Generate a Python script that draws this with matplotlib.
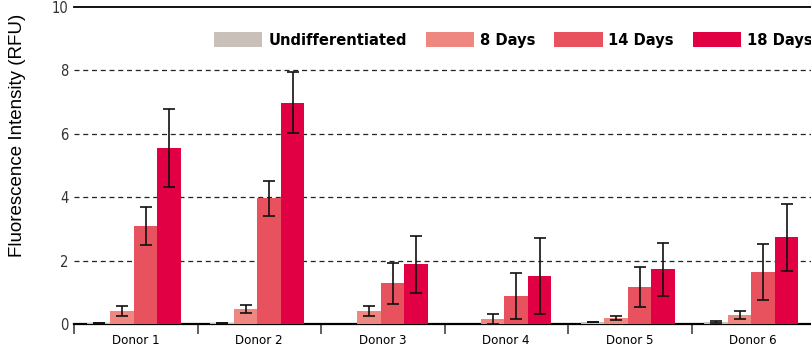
import numpy as np
import matplotlib
matplotlib.use('Agg')
import matplotlib.pyplot as plt

donors = ['Donor 1', 'Donor 2', 'Donor 3', 'Donor 4', 'Donor 5', 'Donor 6']
series = ['Undifferentiated', '8 Days', '14 Days', '18 Days']
colors = ['#c9c1b9', '#ef8781', '#e8525e', '#e20045']

undiff = [0.03, 0.03, np.nan, np.nan, 0.06, 0.06]
undiff_err = [0.01, 0.01, np.nan, np.nan, 0.01, 0.04]
day8 = [0.41, 0.47, 0.41, 0.16, 0.19, 0.28]
day8_err = [0.15, 0.12, 0.15, 0.17, 0.07, 0.13]
day14 = [3.09, 3.97, 1.29, 0.88, 1.17, 1.64]
day14_err = [0.60, 0.55, 0.65, 0.72, 0.64, 0.89]
day18 = [5.55, 6.98, 1.88, 1.52, 1.72, 2.73]
day18_err = [1.23, 0.97, 0.90, 1.19, 0.85, 1.06]

values = [undiff, day8, day14, day18]
errors = [undiff_err, day8_err, day14_err, day18_err]

fig = plt.figure(figsize=(8.12, 3.56), dpi=100)
ax = fig.add_axes([74 / 812, 1 - 324 / 356, 741 / 812, 317 / 356])

x = np.arange(len(donors)) + 0.5
w = 0.19
for i, (vals, errs) in enumerate(zip(values, errors)):
    pos = x + (i - 1.5) * w - 0.015
    ax.bar(pos, vals, w, color=colors[i], label=series[i], zorder=3)
    ax.errorbar(pos, vals, yerr=errs, fmt='none', ecolor='#111111',
                elinewidth=1.2, capsize=4, capthick=1.2, zorder=4)

ax.set_xlim(0, 6)
ax.set_ylim(0, 10)
ax.set_yticks([0, 2, 4, 6, 8, 10])
ax.set_xticks(range(7))
ax.set_xticklabels([])
ax.set_xticks(x, minor=True)
ax.set_xticklabels(donors, minor=True, fontsize=9.5, fontstretch='condensed')
ax.tick_params(axis='x', which='major', length=7, width=1.2, direction='out', color='#444444')
ax.tick_params(axis='x', which='minor', length=0, pad=7)
ax.tick_params(axis='y', length=0, pad=4, labelsize=10.5, labelcolor='#333333')
for lab in ax.get_yticklabels():
    lab.set_fontstretch('condensed')

for yv in [2, 4, 6, 8]:
    ax.axhline(yv, color='#222222', lw=0.9, ls=(0, (4, 3)), zorder=1)

ax.spines['left'].set_visible(False)
ax.spines['right'].set_visible(False)
ax.spines['bottom'].set_linewidth(1.6)
ax.spines['top'].set_linewidth(1.3)

fig.text(18 / 812, 1 - 135 / 356, 'Fluorescence Intensity (RFU)', rotation=90,
         ha='center', va='center', fontsize=13.5, family=['Liberation Sans', 'DejaVu Sans'])

fig.legend(loc='center left', bbox_to_anchor=(214 / 812, 1 - 40 / 356), ncol=4,
           frameon=False, borderpad=0, borderaxespad=0,
           handlelength=2.95, handleheight=1.03, handletextpad=0.36,
           columnspacing=1.15,
           prop={'family': 'DejaVu Sans', 'stretch': 'condensed', 'weight': 'bold', 'size': 11.8})

fig.savefig('out.png', dpi=100)
